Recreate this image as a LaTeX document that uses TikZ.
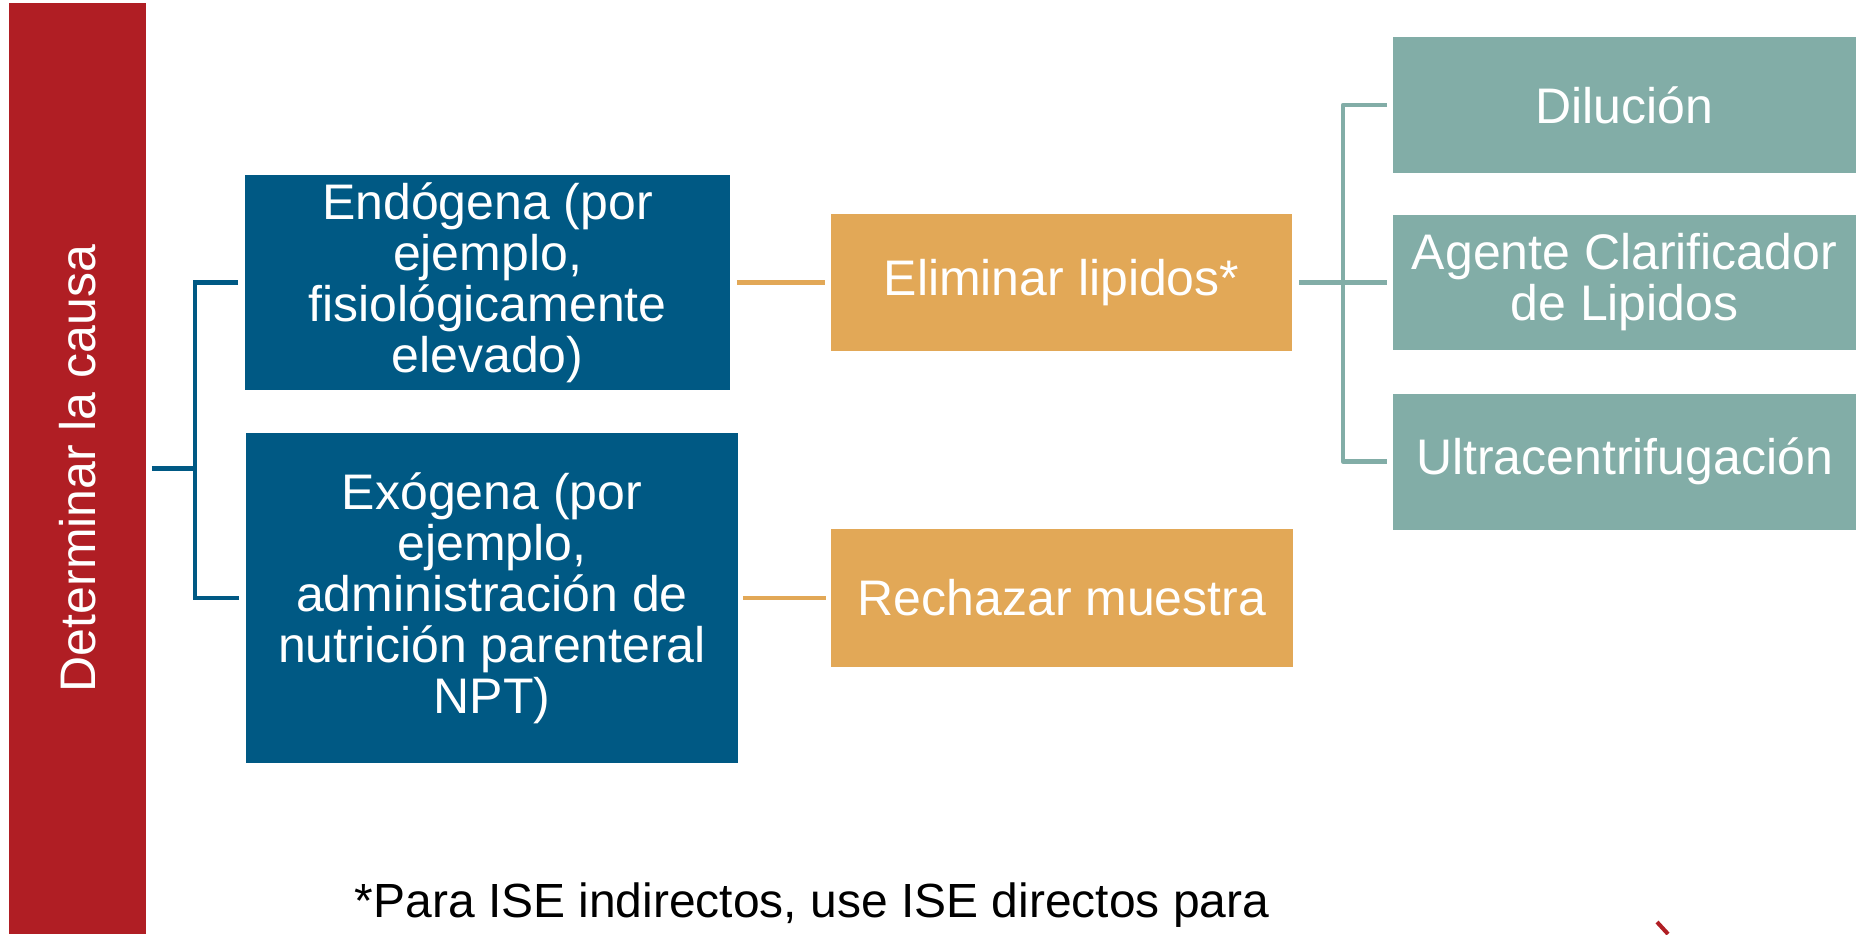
\documentclass[tikz,border=0pt]{standalone}
\usepackage{fontspec}
\setmainfont{Liberation Sans}
\definecolor{causared}{HTML}{B01E24}
\definecolor{endoblue}{HTML}{005984}
\definecolor{lipidorange}{HTML}{E2A857}
\definecolor{clarteal}{HTML}{82ADA7}
\tikzset{
    boxtext/.style={text=white, inner sep=0pt, outer sep=0pt, align=center,
        font=\fontsize{28.45pt}{29pt}\selectfont},
    causabox/.style={boxtext, fill=causared},
    bluebox/.style={boxtext, fill=endoblue},
    orangebox/.style={boxtext, fill=lipidorange},
    tealbox/.style={boxtext, fill=clarteal, minimum width=9.26cm, minimum height=2.72cm},
    bluelink/.style={draw=endoblue, line width=2.5pt},
    orangelink/.style={draw=lipidorange, line width=2.7pt},
    teallink/.style={draw=clarteal, line width=2.7pt, line join=round},
}

\begin{document}
\begin{tikzpicture}[x=0.02cm, y=-0.02cm]

\useasboundingbox (0,0) rectangle (1858,934);

		% left bar
		\node[causabox, minimum width=2.74cm, minimum height=18.62cm] (causa) at (77.5,468.5) {\rotatebox{90}{Determinar la causa}};

		% causes
		\node[bluebox, minimum width=9.7cm, minimum height=4.3cm] (endo) at (487.5,282.5) {Endógena (por\\ejemplo,\\fisiológicamente\\elevado)};
		\node[bluebox, minimum width=9.84cm, minimum height=6.6cm] (exo) at (492,598) {Exógena (por\\ejemplo,\\administración de\\nutrición parenteral\\NPT)};

		% actions
		\node[orangebox, minimum width=9.22cm, minimum height=2.74cm] (elim) at (1061.5,282.5) {Eliminar lipidos*};
		\node[orangebox, minimum width=9.24cm, minimum height=2.76cm] (rech) at (1062,598) {Rechazar muestra};

		% methods
		\node[tealbox] (dil) at (1624.5,105) {Dilución};
		\node[tealbox] (agente) at (1624.5,282.5) {Agente Clarificador\\de Lipidos};
		\node[tealbox] (ultra) at (1624.5,461.5) {Ultracentrifugación};

		\draw[bluelink] ([shift={(6,0)}]causa.east) -- ++(43,0) coordinate (jblue);
		\draw[bluelink] ([shift={(-7,0)}]endo.west) -| (jblue) |- ([shift={(-7,0)}]exo.west);

		\draw[orangelink] ([shift={(7,0)}]endo.east) -- ([shift={(-6,0)}]elim.west);
		\draw[orangelink] ([shift={(5,0)}]exo.east) -- ([shift={(-5,0)}]rech.west);

		\draw[teallink] ([shift={(7,0)}]elim.east) -- ++(44,0) coordinate (jteal);
		\draw[teallink] ([shift={(-6,0)}]dil.west) -| (jteal) |- ([shift={(-6,0)}]ultra.west);
		\draw[teallink] (jteal) -- ([shift={(-6,0)}]agente.west);

		% footnote
		\node[anchor=base, inner sep=0pt, font=\fontsize{27.3pt}{28pt}\selectfont] (nota) at (812,917) {*Para ISE indirectos, use ISE directos para};

		%\node at (1670,930) {};
		\draw[causared, line width=2.3pt] (1657,922) -- (1668,934);
\end{tikzpicture}
\end{document}
